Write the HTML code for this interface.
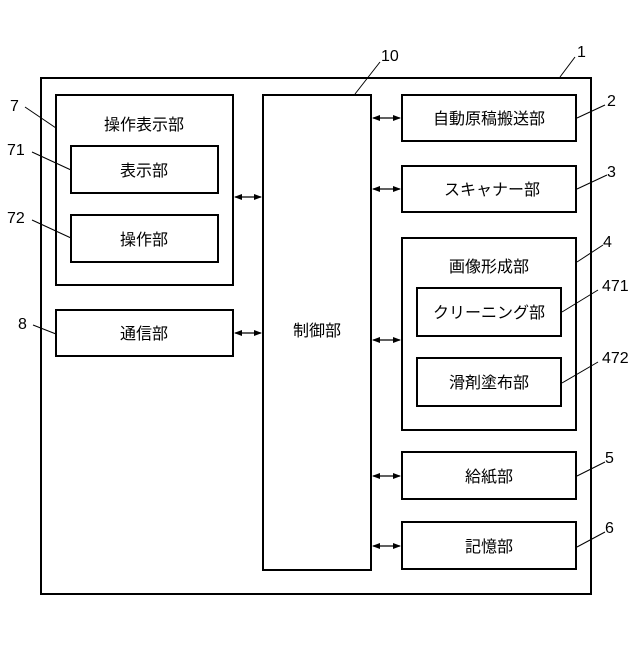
<!DOCTYPE html>
<html><head><meta charset="utf-8"><style>
body{margin:0;background:#fff}
svg text{font-family:"Liberation Sans","Noto Sans CJK JP",sans-serif;fill:#000}
</style></head><body>
<svg width="640" height="640" viewBox="0 0 640 640" xmlns="http://www.w3.org/2000/svg">
<defs>
<marker id="a" markerWidth="8" markerHeight="6" refX="7" refY="3" orient="auto-start-reverse" markerUnits="userSpaceOnUse"><path d="M0,0 L8,3 L0,6 z" fill="#000"/></marker>
</defs>
<g fill="none" stroke="#000" stroke-width="2">
<rect x="41" y="78" width="550" height="516"/>
<rect x="56" y="95" width="177" height="190"/>
<rect x="71" y="146" width="147" height="47"/>
<rect x="71" y="215" width="147" height="47"/>
<rect x="56" y="310" width="177" height="46"/>
<rect x="263" y="95" width="108" height="475"/>
<rect x="402" y="95" width="174" height="46"/>
<rect x="402" y="166" width="174" height="46"/>
<rect x="402" y="238" width="174" height="192"/>
<rect x="417" y="288" width="144" height="48"/>
<rect x="417" y="358" width="144" height="48"/>
<rect x="402" y="452" width="174" height="47"/>
<rect x="402" y="522" width="174" height="47"/>
</g>
<g stroke="#000" stroke-width="1.3" marker-start="url(#a)" marker-end="url(#a)">
<line x1="235" y1="197" x2="261" y2="197"/>
<line x1="235" y1="333" x2="261" y2="333"/>
<line x1="373" y1="118" x2="400" y2="118"/>
<line x1="373" y1="189" x2="400" y2="189"/>
<line x1="373" y1="340" x2="400" y2="340"/>
<line x1="373" y1="476" x2="400" y2="476"/>
<line x1="373" y1="546" x2="400" y2="546"/>
</g>
<g stroke="#000" stroke-width="1">
<line x1="575" y1="57" x2="560" y2="77"/>
<line x1="380" y1="62" x2="355" y2="94"/>
<line x1="605" y1="105" x2="577" y2="118"/>
<line x1="607" y1="175" x2="577" y2="189"/>
<line x1="603" y1="245" x2="577" y2="262"/>
<line x1="598" y1="290" x2="562" y2="312"/>
<line x1="598" y1="362" x2="562" y2="383"/>
<line x1="605" y1="462" x2="577" y2="476"/>
<line x1="605" y1="532" x2="577" y2="547"/>
<line x1="25" y1="107" x2="56" y2="128"/>
<line x1="32" y1="152" x2="71" y2="170"/>
<line x1="32" y1="220" x2="71" y2="238"/>
<line x1="33" y1="325" x2="56" y2="334"/>
</g>
<g font-size="16" text-anchor="middle">
<text x="144" y="130">操作表示部</text>
<text x="144" y="176">表示部</text>
<text x="144" y="245">操作部</text>
<text x="144" y="339">通信部</text>
<text x="317" y="336">制御部</text>
<text x="489" y="124">自動原稿搬送部</text>
<text x="492" y="195">スキャナー部</text>
<text x="489" y="272">画像形成部</text>
<text x="489" y="318">クリーニング部</text>
<text x="489" y="388">滑剤塗布部</text>
<text x="489" y="482">給紙部</text>
<text x="489" y="552">記憶部</text>
</g>
<g font-size="16">
<text x="577" y="57">1</text>
<text x="381" y="61">10</text>
<text x="607" y="106">2</text>
<text x="607" y="177">3</text>
<text x="603" y="247">4</text>
<text x="602" y="291">471</text>
<text x="602" y="363">472</text>
<text x="605" y="463">5</text>
<text x="605" y="533">6</text>
<text x="10" y="111">7</text>
<text x="7" y="155">71</text>
<text x="7" y="223">72</text>
<text x="18" y="329">8</text>
</g>
</svg>
</body></html>
